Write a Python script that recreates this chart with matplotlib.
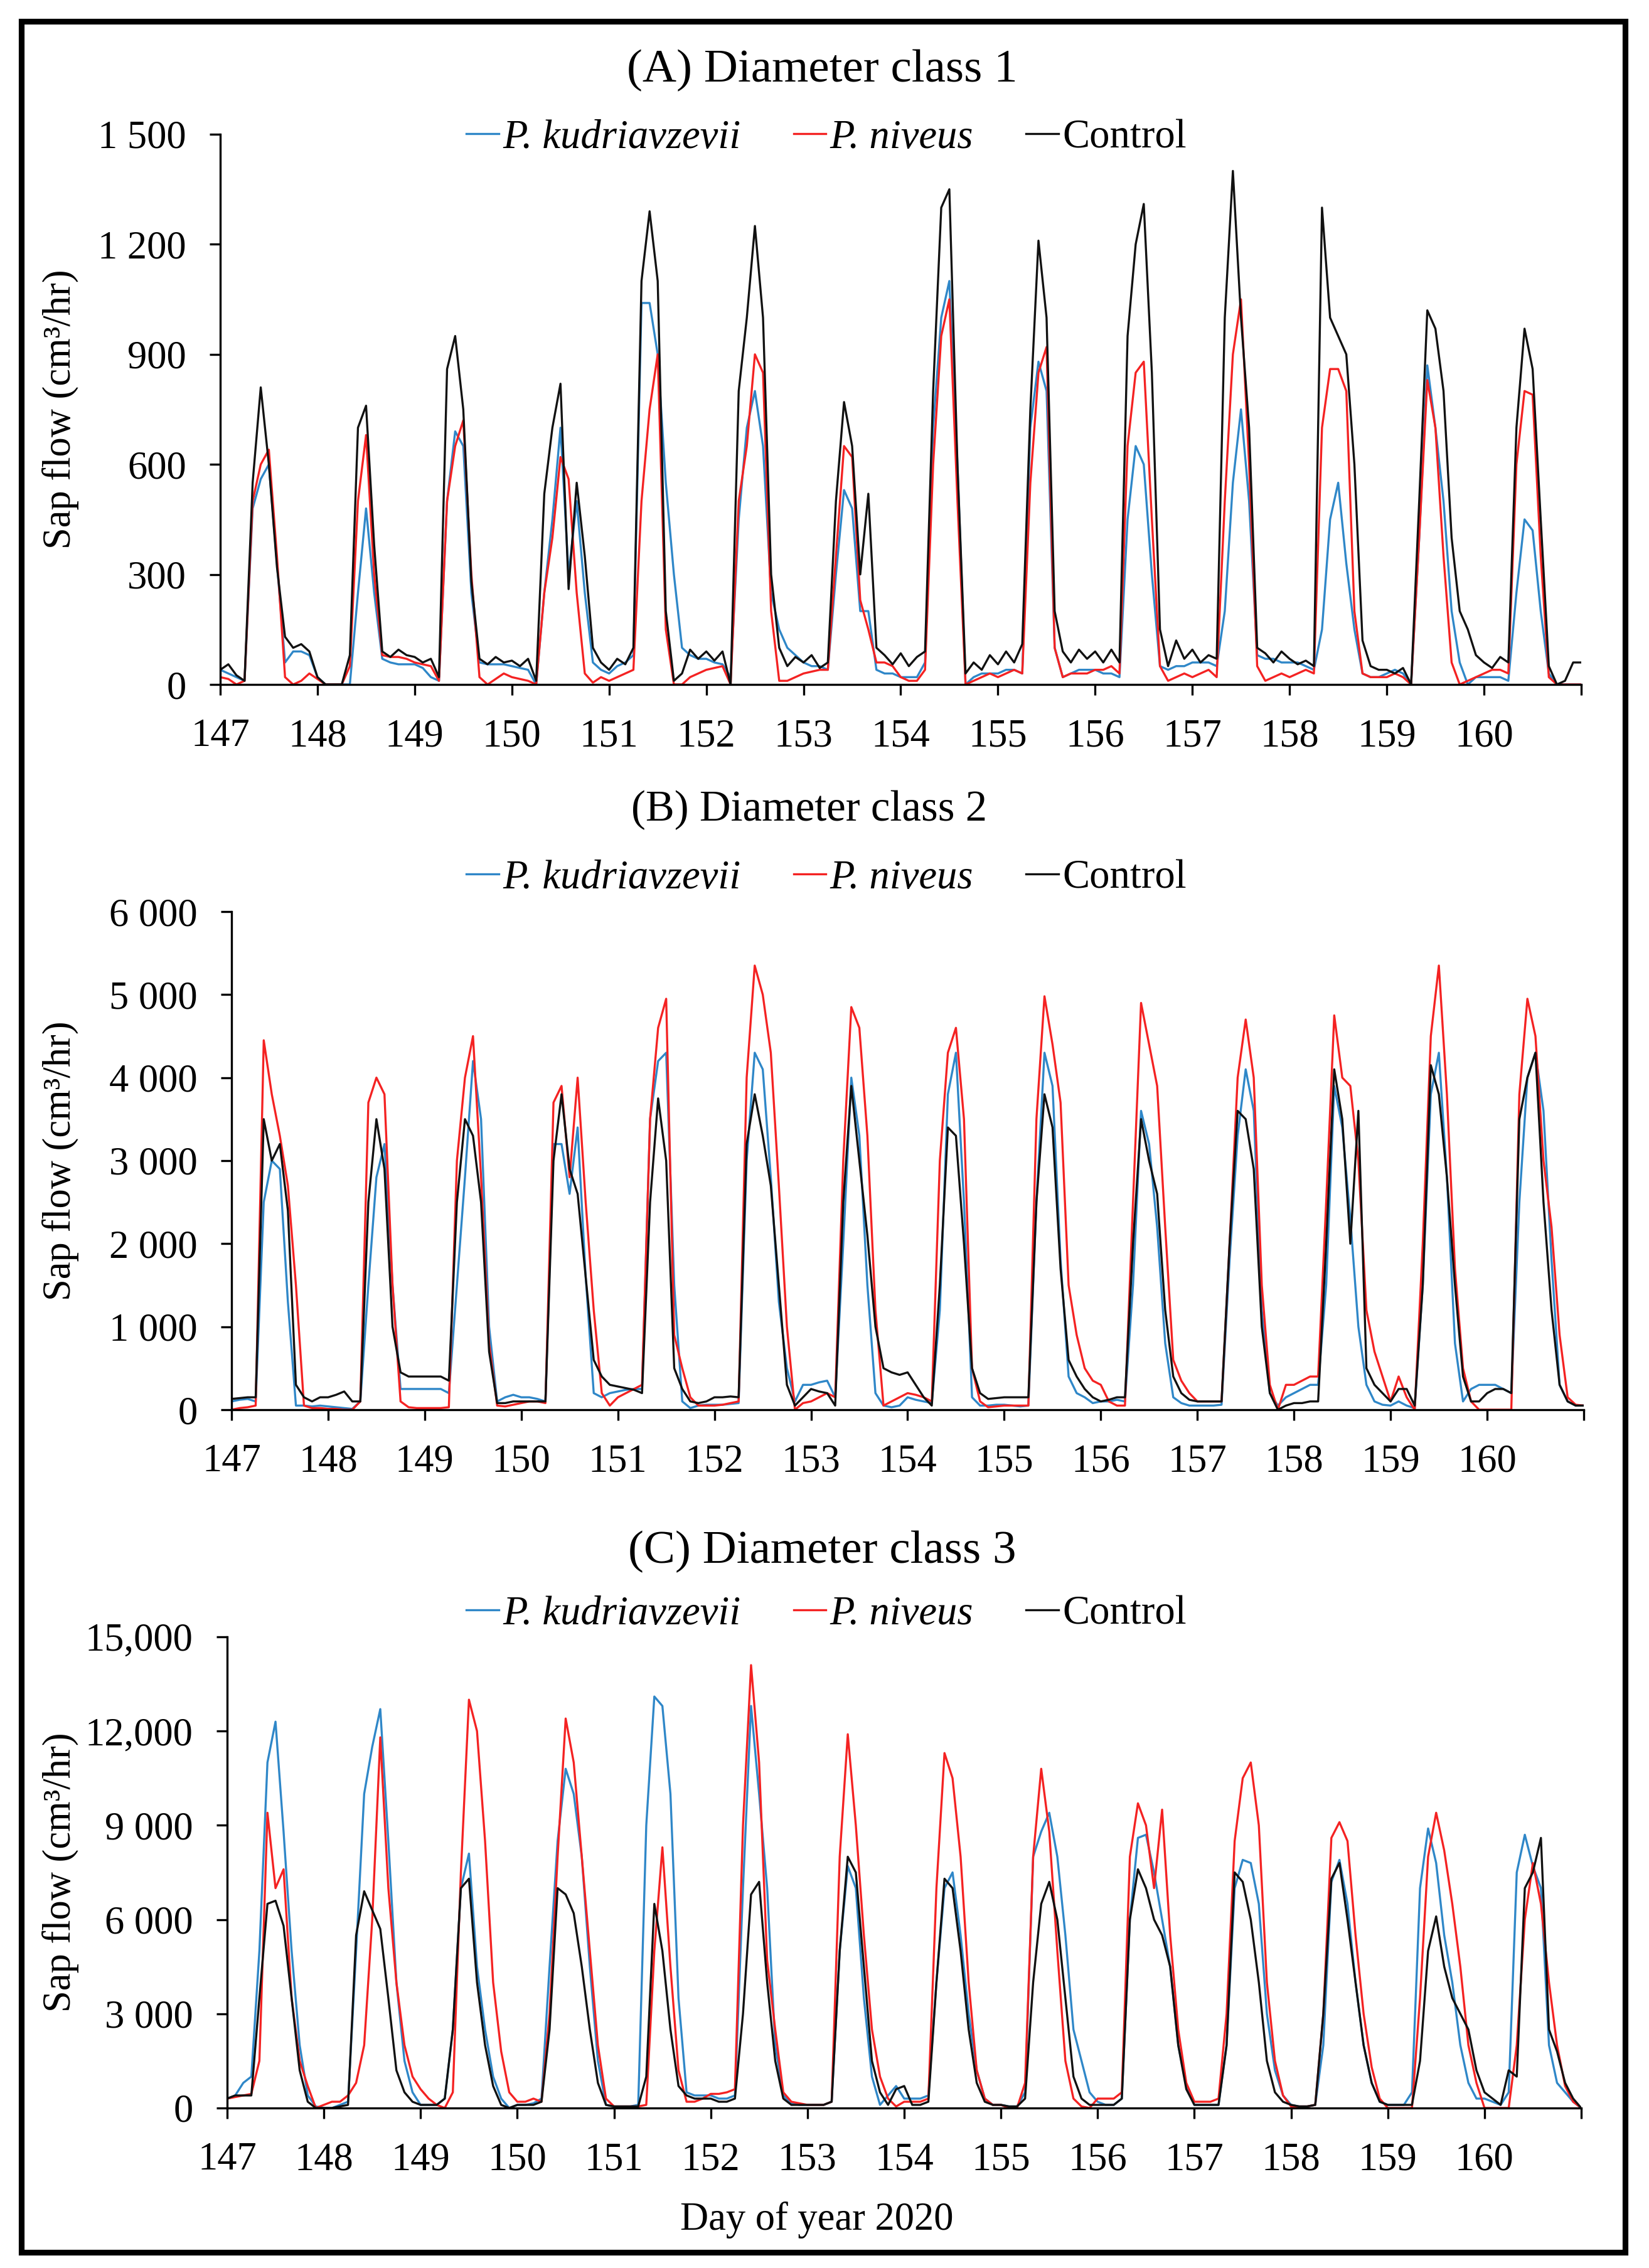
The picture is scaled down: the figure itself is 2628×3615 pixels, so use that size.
import numpy as np
import matplotlib
matplotlib.use("Agg")
import matplotlib.pyplot as plt
from matplotlib.patches import Rectangle

# ── Data: sap flow, 2-hourly readings (00,02,...,22 h) per day, days 147-160 ──
A_KUD = [
    [40, 30, 20, 10, 480, 560, 600, 330, 60, 90, 90, 80],
    [20, 0, 0, 0, 0, 250, 480, 250, 70, 60, 55, 55],
    [55, 45, 20, 10, 500, 690, 650, 250, 60, 55, 55, 55],
    [50, 45, 40, 0, 250, 450, 700, 300, 500, 250, 60, 40],
    [30, 50, 60, 80, 1040, 1040, 900, 550, 300, 100, 80, 70],
    [70, 60, 55, 20, 450, 700, 800, 650, 250, 150, 100, 80],
    [60, 50, 50, 40, 300, 530, 480, 200, 200, 40, 30, 30],
    [20, 20, 20, 60, 700, 1000, 1100, 600, 0, 20, 30, 30],
    [30, 40, 40, 30, 700, 880, 800, 100, 20, 30, 40, 40],
    [40, 30, 30, 20, 450, 650, 600, 300, 50, 40, 50, 50],
    [60, 60, 60, 50, 200, 550, 750, 500, 80, 70, 70, 60],
    [60, 60, 50, 40, 150, 450, 550, 330, 150, 30, 20, 20],
    [30, 40, 30, 0, 400, 870, 700, 500, 200, 60, 0, 20],
    [20, 20, 20, 10, 250, 450, 420, 200, 30, 0, 0, 0],
]
A_NIV = [
    [20, 15, 0, 10, 500, 600, 640, 350, 20, 0, 10, 30],
    [15, 0, 0, 0, 50, 500, 680, 300, 80, 75, 75, 70],
    [60, 55, 50, 10, 500, 650, 720, 300, 20, 0, 15, 30],
    [20, 15, 10, 0, 250, 400, 620, 560, 250, 30, 5, 20],
    [10, 20, 30, 40, 500, 750, 900, 150, 0, 0, 20, 30],
    [40, 45, 50, 0, 500, 650, 900, 850, 200, 10, 10, 20],
    [30, 35, 40, 40, 350, 650, 620, 230, 150, 60, 60, 50],
    [20, 10, 10, 40, 600, 950, 1050, 500, 0, 10, 20, 30],
    [20, 30, 40, 30, 550, 850, 920, 100, 20, 30, 30, 30],
    [40, 40, 50, 30, 650, 850, 880, 450, 50, 10, 20, 30],
    [20, 30, 40, 20, 500, 900, 1050, 600, 50, 10, 20, 30],
    [20, 30, 40, 30, 700, 860, 860, 800, 200, 30, 20, 20],
    [20, 30, 20, 0, 400, 830, 700, 350, 60, 0, 10, 20],
    [30, 40, 40, 30, 600, 800, 790, 350, 20, 0, 0, 0],
]
A_CTL = [
    [40, 55, 25, 10, 550, 810, 600, 320, 130, 100, 110, 90],
    [20, 0, 0, 0, 80, 700, 760, 380, 90, 75, 95, 80],
    [75, 60, 70, 20, 860, 950, 750, 280, 70, 55, 75, 60],
    [65, 50, 70, 10, 520, 700, 820, 260, 550, 350, 100, 60],
    [40, 70, 55, 100, 1100, 1290, 1100, 200, 10, 30, 95, 70],
    [90, 65, 90, 0, 800, 1000, 1250, 1000, 300, 100, 50, 75],
    [60, 80, 45, 60, 500, 770, 650, 300, 520, 100, 80, 55],
    [85, 50, 75, 90, 800, 1300, 1350, 600, 30, 60, 40, 80],
    [55, 90, 60, 110, 750, 1210, 1000, 200, 90, 60, 95, 70],
    [90, 60, 95, 60, 950, 1200, 1310, 850, 150, 50, 120, 70],
    [95, 60, 80, 70, 1000, 1400, 1000, 700, 100, 85, 60, 90],
    [70, 55, 65, 50, 1300, 1000, 950, 900, 600, 120, 50, 40],
    [40, 30, 45, 0, 500, 1020, 970, 800, 400, 200, 150, 80],
    [60, 45, 75, 60, 700, 970, 860, 450, 50, 0, 10, 60],
]
A_END = [0, 0, 60]

B_KUD = [
    [100, 120, 130, 100, 2500, 3000, 2900, 1300, 50, 50, 40, 50],
    [40, 30, 20, 10, 100, 1500, 2800, 3200, 1500, 250, 250, 250],
    [250, 250, 250, 200, 1500, 2800, 4200, 3500, 1000, 100, 150, 180],
    [150, 150, 130, 100, 3200, 3200, 2600, 3400, 1600, 200, 150, 200],
    [220, 240, 250, 250, 3500, 4200, 4300, 1500, 100, 20, 50, 60],
    [60, 60, 70, 80, 3000, 4300, 4100, 2800, 1300, 500, 100, 300],
    [300, 330, 350, 150, 2000, 4000, 3300, 1500, 200, 50, 30, 50],
    [150, 120, 100, 80, 1200, 3800, 4300, 2500, 150, 50, 50, 60],
    [60, 50, 40, 50, 2500, 4300, 3900, 1800, 400, 200, 150, 80],
    [100, 100, 120, 100, 1500, 3600, 3200, 2200, 800, 150, 80, 50],
    [50, 50, 50, 60, 1800, 3300, 4100, 3600, 1200, 200, 50, 150],
    [200, 250, 300, 300, 1500, 3900, 3400, 2300, 1000, 300, 100, 60],
    [50, 100, 50, 20, 1500, 3800, 4300, 2800, 800, 100, 250, 300],
    [300, 300, 250, 200, 2500, 4000, 4300, 3600, 1800, 300, 100, 50],
]
B_NIV = [
    [0, 20, 30, 50, 4450, 3800, 3300, 2700, 1500, 50, 20, 20],
    [10, 10, 0, 0, 100, 3700, 4000, 3800, 1500, 100, 30, 20],
    [20, 20, 20, 30, 3000, 4000, 4500, 2800, 800, 50, 40, 60],
    [80, 100, 100, 80, 3700, 3900, 2800, 4000, 2500, 1200, 200, 50],
    [150, 200, 250, 300, 3500, 4600, 4950, 900, 500, 150, 50, 50],
    [50, 60, 80, 100, 4000, 5350, 5000, 4300, 2700, 1000, 0, 80],
    [100, 150, 200, 150, 3000, 4850, 4600, 3300, 1200, 50, 100, 150],
    [200, 180, 150, 100, 3000, 4300, 4600, 3500, 500, 100, 30, 40],
    [50, 50, 50, 50, 3500, 4980, 4400, 3700, 1500, 900, 500, 350],
    [300, 100, 50, 50, 2500, 4900, 4400, 3900, 2200, 600, 350, 200],
    [100, 100, 100, 100, 2000, 4000, 4700, 4000, 1500, 300, 0, 300],
    [300, 350, 400, 400, 2500, 4750, 4000, 3900, 3000, 1200, 700, 400],
    [100, 400, 150, 0, 2000, 4500, 5350, 3800, 1700, 500, 100, 0],
    [0, 0, 0, 0, 3800, 4950, 4500, 3000, 2200, 900, 150, 60],
]
B_CTL = [
    [130, 140, 150, 150, 3500, 3000, 3200, 2400, 300, 150, 100, 150],
    [150, 180, 220, 100, 100, 2500, 3500, 2900, 1000, 450, 400, 400],
    [400, 400, 400, 350, 2500, 3500, 3300, 2500, 700, 80, 80, 100],
    [100, 100, 100, 100, 3000, 3800, 2900, 2600, 1600, 600, 400, 300],
    [280, 260, 240, 200, 2500, 3750, 3000, 500, 250, 100, 80, 100],
    [150, 150, 160, 150, 3200, 3800, 3300, 2700, 1500, 300, 50, 150],
    [250, 220, 200, 50, 2500, 3900, 3000, 2100, 1000, 500, 450, 420],
    [450, 300, 150, 50, 1500, 3400, 3300, 2000, 500, 200, 130, 140],
    [150, 150, 150, 150, 2500, 3800, 3400, 1700, 600, 400, 250, 150],
    [100, 120, 150, 150, 2000, 3500, 3000, 2600, 1200, 400, 200, 120],
    [100, 100, 100, 100, 2000, 3600, 3500, 2900, 1000, 200, 0, 50],
    [80, 80, 100, 100, 2000, 4100, 3500, 2000, 3600, 500, 300, 200],
    [100, 250, 250, 50, 1500, 4150, 3800, 2800, 1500, 400, 100, 100],
    [200, 250, 250, 200, 3500, 4000, 4300, 2500, 1200, 300, 100, 50],
]
B_END = [50, 50, 50]

C_KUD = [
    [300, 400, 800, 1000, 5000, 11000, 12300, 8800, 5000, 2000, 400, 50],
    [0, 0, 100, 200, 5000, 10000, 11500, 12700, 8500, 4000, 1500, 500],
    [100, 100, 100, 300, 2500, 7000, 8100, 4500, 2500, 1000, 300, 0],
    [100, 100, 150, 300, 4500, 8500, 10800, 10000, 8000, 4500, 1500, 100],
    [50, 50, 50, 100, 9000, 13100, 12800, 10000, 3500, 500, 400, 400],
    [400, 300, 300, 400, 7000, 12800, 10000, 7000, 2000, 400, 150, 100],
    [100, 100, 100, 200, 5000, 7700, 7000, 3500, 1000, 100, 400, 700],
    [300, 300, 300, 400, 4000, 7000, 7500, 5500, 3000, 1200, 300, 100],
    [100, 50, 50, 500, 8000, 8800, 9400, 8000, 5500, 2500, 1500, 500],
    [200, 100, 100, 300, 6000, 8600, 8700, 7500, 6000, 4500, 2000, 700],
    [100, 100, 100, 100, 2000, 7000, 7900, 7800, 6500, 3000, 1200, 400],
    [100, 50, 50, 100, 2000, 7200, 7900, 6500, 4000, 2000, 800, 200],
    [100, 100, 100, 500, 7000, 8900, 7800, 5500, 4000, 2000, 800, 300],
    [300, 200, 100, 500, 7500, 8700, 7700, 7000, 2000, 800, 500, 200],
]
C_NIV = [
    [300, 350, 400, 450, 1500, 9400, 7000, 7600, 3500, 1500, 700, 0],
    [100, 200, 200, 400, 800, 2000, 6000, 11800, 7000, 4000, 2000, 1000],
    [600, 300, 100, 0, 500, 7500, 13000, 12000, 8500, 4000, 1800, 500],
    [200, 200, 300, 200, 3000, 8000, 12400, 11000, 8000, 5000, 2000, 300],
    [50, 50, 50, 50, 100, 5000, 8300, 4500, 1200, 200, 200, 300],
    [450, 450, 500, 600, 9000, 14100, 11000, 4700, 2500, 500, 200, 150],
    [100, 100, 100, 200, 8000, 11900, 9000, 5500, 2500, 1000, 300, 50],
    [200, 200, 200, 300, 7000, 11300, 10500, 8000, 4000, 1200, 300, 100],
    [100, 0, 0, 800, 8000, 10800, 8800, 5000, 1500, 300, 50, 0],
    [300, 300, 300, 500, 8000, 9700, 9000, 7000, 9500, 5500, 2500, 800],
    [200, 200, 200, 300, 3000, 8500, 10500, 11000, 9000, 4000, 1500, 400],
    [50, 50, 50, 100, 3000, 8600, 9100, 8500, 5500, 3000, 1300, 300],
    [0, 0, 0, 0, 3500, 8000, 9400, 8200, 6500, 4500, 2000, 800],
    [0, 0, 0, 0, 2000, 6000, 7800, 6500, 4000, 2000, 700, 200],
]
C_CTL = [
    [300, 400, 400, 400, 3500, 6500, 6600, 5800, 3500, 1200, 200, 0],
    [0, 0, 50, 100, 5500, 6900, 6300, 5700, 3500, 1200, 500, 200],
    [100, 100, 100, 300, 2500, 7000, 7300, 4000, 2000, 700, 100, 0],
    [100, 100, 100, 200, 2500, 7000, 6800, 6200, 4500, 2500, 800, 100],
    [50, 50, 50, 50, 1000, 6500, 5000, 2500, 700, 400, 300, 300],
    [300, 200, 200, 300, 3000, 6800, 7200, 4000, 1500, 300, 100, 100],
    [100, 100, 100, 200, 5000, 8000, 7500, 4500, 1500, 500, 100, 600],
    [700, 100, 100, 200, 4000, 7300, 7000, 5000, 2500, 800, 200, 100],
    [100, 50, 50, 300, 4000, 6500, 7200, 6000, 3500, 1000, 300, 100],
    [100, 100, 100, 300, 6000, 7600, 7000, 6000, 5500, 4500, 2000, 600],
    [100, 100, 100, 100, 2000, 7500, 7200, 6000, 4000, 1500, 500, 200],
    [100, 50, 50, 100, 3000, 7300, 7800, 6000, 4000, 2000, 800, 200],
    [100, 100, 100, 100, 1500, 5000, 6100, 4500, 3500, 3000, 2500, 1200],
    [500, 300, 100, 1200, 1000, 7000, 7500, 8600, 2500, 1800, 800, 300],
]
C_END = [0, 0, 0]

LABELS = ["P. kudriavzevii", "P. niveus", "Control"]
TITLES = ["(A) Diameter class 1", "(B) Diameter class 2", "(C) Diameter class 3"]
YTICKS = [
    [0, 300, 600, 900, 1200, 1500],
    [0, 1000, 2000, 3000, 4000, 5000, 6000],
    [0, 3000, 6000, 9000, 12000, 15000],
]
YTICKLABELS = [
    ["0", "300", "600", "900", "1 200", "1 500"],
    ["0", "1 000", "2 000", "3 000", "4 000", "5 000", "6 000"],
    ["0", "3 000", "6 000", "9 000", "12,000", "15,000"],
]
XTICKS = list(range(147, 162))
XTICKLABELS = [str(d) for d in range(147, 161)] + [""]

# ── Style ─────────────────────────────────────────────────────────────────────
BLUE = "#2F87C8"
RED = "#F42222"
BLACK = "#111111"
COLORS = [BLUE, RED, BLACK]

plt.rcParams.update({
    "font.family": ["Liberation Serif", "DejaVu Serif"],
    "font.size": 15,
    "axes.linewidth": 0.8,
})


def series(rows, last):
    vals = [v for r in rows for v in r] + [last]
    return np.array(vals, dtype=float)


W, H = 2628, 3615
fig = plt.figure(figsize=(W / 300, H / 300), dpi=300)

# axes boxes in pixels: left, right, top, bottom
boxes = [(351, 2520, 214, 1091), (369, 2524, 1453, 2247), (362, 2520, 2609, 3360)]
title_pos = [(1310, 112, 18), (1290, 1291, 16.5), (1310, 2473, 18)]
legend_y = [220, 1400, 2573]
panels = [(A_KUD, A_NIV, A_CTL, A_END), (B_KUD, B_NIV, B_CTL, B_END),
          (C_KUD, C_NIV, C_CTL, C_END)]

for i, (kud, niv, ctl, end) in enumerate(panels):
    l, r, t, b = boxes[i]
    ax = fig.add_axes([l / W, 1 - b / H, (r - l) / W, (b - t) / H])
    handles = []
    for rows, last, col, lab in zip((kud, niv, ctl), end, COLORS, LABELS):
        y = series(rows, last)
        x = 147 + np.arange(len(y)) / 12.0
        h, = ax.plot(x, y, color=col, lw=0.8, label=lab)
        handles.append(h)

    ax.set_xlim(147, 161)
    ax.set_ylim(0, YTICKS[i][-1])
    ax.set_xticks(XTICKS)
    ax.set_xticklabels(XTICKLABELS)
    ax.set_yticks(YTICKS[i])
    ax.set_yticklabels(YTICKLABELS[i])
    ax.tick_params(direction="out", length=4, width=0.8, pad=9, labelsize=15)
    for s in ["top", "right"]:
        ax.spines[s].set_visible(False)

    leg = ax.legend(handles=handles, loc="center", ncol=3, frameon=False,
                    bbox_to_anchor=(1317 / W, 1 - legend_y[i] / H),
                    bbox_transform=fig.transFigure,
                    handlelength=0.8, handletextpad=0.1, columnspacing=1.3,
                    fontsize=15.5)
    for txt in leg.get_texts()[:2]:
        txt.set_style("italic")

    tx, ty, fs = title_pos[i]
    fig.text(tx / W, 1 - ty / H, TITLES[i], ha="center", va="center", fontsize=fs)
    fig.text(97 / W, 1 - (t + b) / 2 / H, "Sap flow (cm³/hr)", rotation=90,
             ha="center", va="center", fontsize=15)

fig.text(1302 / W, 1 - 3538 / H, "Day of year 2020", ha="center", va="center",
         fontsize=15)

# outer frame
fig.patches.append(Rectangle((34 / W, 1 - 3590 / H), (2590 - 34) / W, (3590 - 34) / H,
                             transform=fig.transFigure, fill=False,
                             edgecolor="black", linewidth=2.2))

fig.savefig("out.png", dpi=300, facecolor="white")
